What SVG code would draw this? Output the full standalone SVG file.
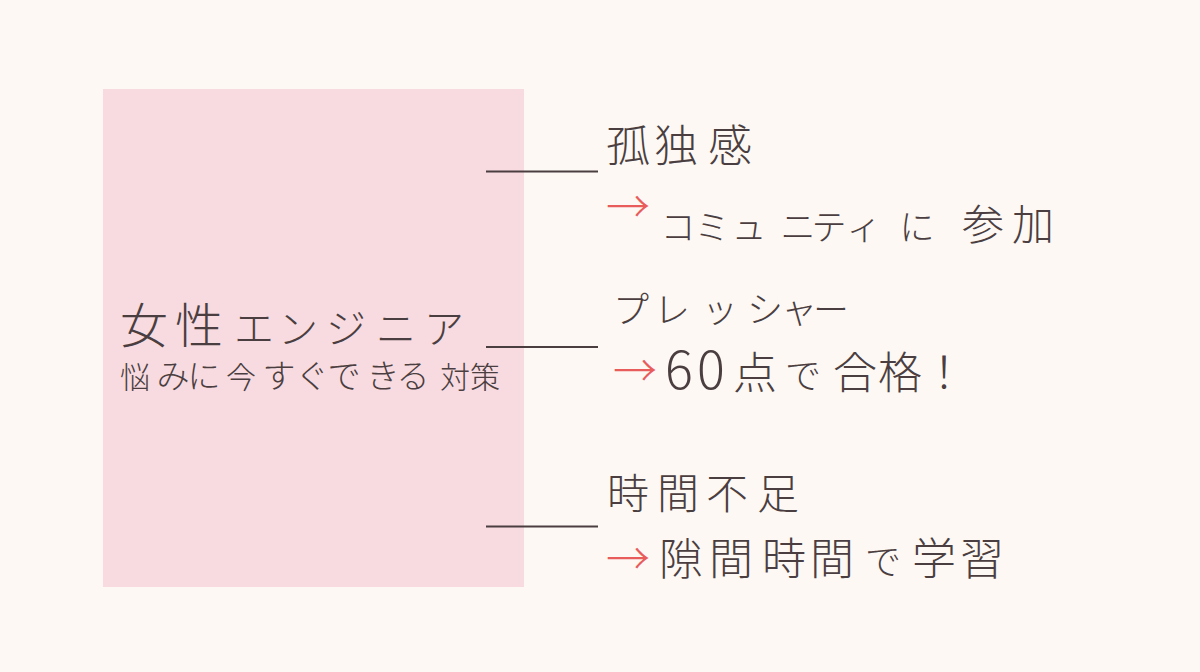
<svg xmlns="http://www.w3.org/2000/svg" width="1200" height="672" viewBox="0 0 1200 672">
<style>
text{font-family:"Noto Sans CJK JP","Noto Sans CJK SC",sans-serif;fill:#4b3e40;font-weight:300}
.arr{fill:#e85c5c}
.ln{stroke:#4b3e40;stroke-width:2;fill:none}
</style>
<rect width="1200" height="672" fill="#fdf8f4"/>
<g id="main">
<rect x="103" y="89" width="421" height="498" fill="#f7dbe0"/>
<text y="343"><tspan font-size="48" x="120 175">女性</tspan><tspan font-size="40" x="234 278 326 376 424">エンジニア</tspan></text>
<text y="388"><tspan font-size="30" x="120">悩</tspan><tspan font-size="33" x="156.5 187.5">みに</tspan><tspan font-size="30" x="226">今</tspan><tspan font-size="33" x="262.5 295.5 327.5 366.5 396.5">すぐできる</tspan><tspan font-size="30" x="440 470">対策</tspan></text>
</g>
<g id="connectors">
<line class="ln" x1="486" y1="171.5" x2="598" y2="171.5"/>
<line class="ln" x1="486" y1="347" x2="598" y2="347"/>
<line class="ln" x1="486" y1="526.5" x2="598" y2="526.5"/>
</g>
<g id="item1">
<text y="162" font-size="44" x="606 654 708">孤独感</text>
<text class="arr" x="606" y="223" font-size="44">→</text>
<text y="240"><tspan font-size="35" x="660.5 694.5 731.5 780.5 811.5 846.5 899.5">コミュニティに</tspan><tspan font-size="42" x="962 1012">参加</tspan></text>
</g>
<g id="item2">
<text y="323" font-size="36" x="613 654 702 747 781 813">プレッシャー</text>
<text class="arr" x="613" y="387" font-size="44">→</text>
<text y="389"><tspan font-size="52" x="665 697">60</tspan><tspan font-size="44" x="733">点</tspan><tspan font-size="36" x="785">で</tspan><tspan font-size="44" x="833 878 922">合格！</tspan></text>
</g>
<g id="item3">
<text y="509" font-size="42" x="607 657 706 757">時間不足</text>
<text class="arr" x="606" y="575" font-size="44">→</text>
<text y="575"><tspan font-size="44" x="659 709 762 810">隙間時間</tspan><tspan font-size="36" x="865">で</tspan><tspan font-size="44" x="912 960">学習</tspan></text>
</g>
</svg>
